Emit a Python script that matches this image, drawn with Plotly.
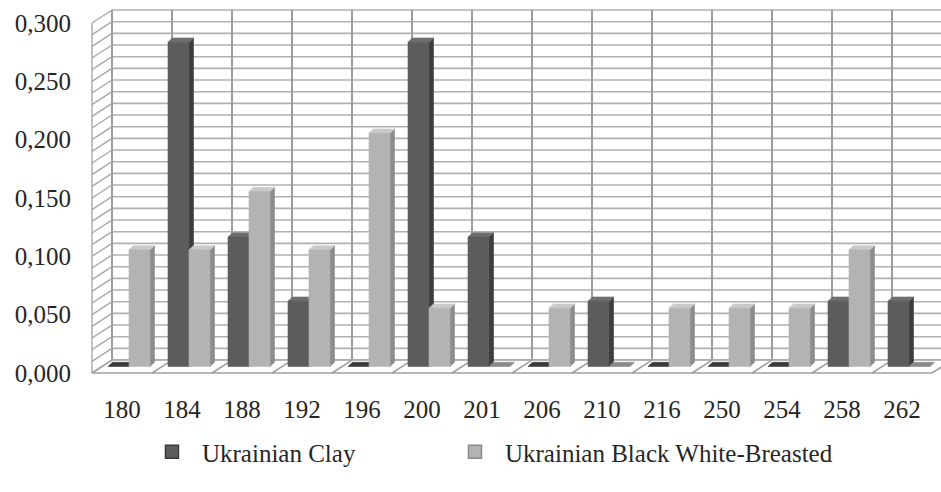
import plotly.graph_objects as go

# Allele sizes (bp) and their frequencies in the two breeds
alleles = ["180", "184", "188", "192", "196", "200", "201",
           "206", "210", "216", "250", "254", "258", "262"]
clay = [0.000, 0.278, 0.111, 0.056, 0.000, 0.278, 0.111,
        0.000, 0.056, 0.000, 0.000, 0.000, 0.056, 0.056]
black_white = [0.100, 0.100, 0.150, 0.100, 0.200, 0.050, 0.000,
               0.050, 0.000, 0.050, 0.050, 0.050, 0.100, 0.000]

y_ticks = [0.00, 0.05, 0.10, 0.15, 0.20, 0.25, 0.30]
y_tick_labels = ["0,000", "0,050", "0,100", "0,150", "0,200", "0,250", "0,300"]

# --- pseudo-3D geometry (x in category widths, y in value units) ---
N = len(alleles)
Y_MAX = y_ticks[-1]
GRID_STEP = 0.01
WALL_DX = 1 / 3          # depth shift of the back wall
WALL_DY = 0.0111
BAR_W = 0.35             # front-face width of one column
BAR_DX = 0.075           # column depth
BAR_DY = 0.0036
BAR_X0 = WALL_DX / 2 + 0.10   # left edge of the first column in a category
BAR_BASE = WALL_DY / 2        # columns stand in the middle of the floor

X_RANGE = [-1 / 3, 14.15]
Y_RANGE = [-0.0060, 0.3154]

FONT = "Liberation Serif"
TEXT = "#262626"

fig = go.Figure()


def add_lines(xs, ys, color, width):
    fig.add_trace(go.Scatter(x=xs, y=ys, mode="lines", hoverinfo="skip",
                             showlegend=False,
                             line=dict(color=color, width=width)))


def add_poly(xs, ys, color):
    fig.add_trace(go.Scatter(x=xs, y=ys, mode="lines", fill="toself",
                             fillcolor=color, hoverinfo="skip",
                             showlegend=False,
                             line=dict(color=color, width=0.6)))


n_grid = int(round(Y_MAX / GRID_STEP))
levels = [k * GRID_STEP for k in range(n_grid + 1)]
x_end = N + WALL_DX

# back wall: horizontal grid every 0.01 and one vertical line per category
gx, gy = [], []
for v in levels:
    gx += [WALL_DX, x_end, None]
    gy += [v + WALL_DY, v + WALL_DY, None]
add_lines(gx, gy, "#b0b0b0", 1.6)
vx, vy = [], []
for k in range(N + 1):
    vx += [k + WALL_DX, k + WALL_DX, None]
    vy += [WALL_DY, Y_MAX + WALL_DY, None]
add_lines(vx, vy, "#9c9c9c", 2)

# side wall with its slanted grid
sx, sy = [0, 0, None], [0, Y_MAX, None]
for v in levels:
    sx += [0, WALL_DX, None]
    sy += [v, v + WALL_DY, None]
add_lines(sx, sy, "#a8a8a8", 1.4)

# floor
add_poly([0, N, x_end, WALL_DX, 0], [0, 0, WALL_DY, WALL_DY, 0], "#ffffff")
fx = [0, N, None, WALL_DX, x_end, None, N, x_end, None]
fy = [0, 0, None, WALL_DY, WALL_DY, None, 0, WALL_DY, None]
for k in range(N):
    fx += [k, k + WALL_DX, None]
    fy += [0, WALL_DY, None]
add_lines(fx, fy, "#a0a0a0", 1.6)


def columns(values, shift, front, side, top, flat):
    """Front, side and top faces of one series of columns."""
    sxs, sys_, txs, tys, fxs, fys, zx, zy = [], [], [], [], [], [], [], []
    b = BAR_BASE
    for i, v in enumerate(values):
        x0 = i + BAR_X0 + shift
        x1 = x0 + BAR_W
        t = b + v
        if v == 0:
            zx += [x0, x1, x1 + BAR_DX, x0 + BAR_DX, x0, None]
            zy += [b, b, b + BAR_DY, b + BAR_DY, b, None]
            continue
        sxs += [x1, x1 + BAR_DX, x1 + BAR_DX, x1, x1, None]
        sys_ += [b, b + BAR_DY, t + BAR_DY, t, b, None]
        txs += [x0, x1, x1 + BAR_DX, x0 + BAR_DX, x0, None]
        tys += [t, t, t + BAR_DY, t + BAR_DY, t, None]
        fxs += [x0, x1, x1, x0, x0, None]
        fys += [b, b, t, t, b, None]
    add_poly(zx, zy, flat)
    add_poly(sxs, sys_, side)
    add_poly(txs, tys, top)
    add_poly(fxs, fys, front)


columns(clay, 0.0, "#5c5c5c", "#3d3d3d", "#6e6e6e", "#3a3a3a")
columns(black_white, BAR_W, "#b3b3b3", "#8c8c8c", "#c9c9c9", "#8a8a8a")

# legend entries, one legend box each
for name, color, edge, leg in [("Ukrainian Clay", "#5c5c5c", "#3a3a3a", "legend"),
                               ("Ukrainian Black White-Breasted", "#b3b3b3", "#8a8a8a", "legend2")]:
    fig.add_trace(go.Scatter(x=[None], y=[None], mode="markers", name=name,
                             legend=leg,
                             marker=dict(symbol="square", size=13, color=color,
                                         line=dict(color=edge, width=1.5))))

legend_style = dict(orientation="h", xanchor="left", y=-0.192, yanchor="middle",
                    itemwidth=50, bgcolor="rgba(0,0,0,0)",
                    font=dict(family=FONT, size=25, color=TEXT))

fig.update_layout(
    width=941, height=492,
    margin=dict(l=72, r=0, t=5, b=112),
    paper_bgcolor="white", plot_bgcolor="white",
    font=dict(family=FONT, size=25, color=TEXT),
    showlegend=True,
    legend=dict(x=0.0805, **legend_style),
    legend2=dict(x=0.4292, **legend_style),
    xaxis=dict(range=X_RANGE, showgrid=False, zeroline=False, showline=False,
               tickmode="array", tickvals=[i + 0.5 for i in range(N)],
               ticktext=alleles, ticks="", ticklabelstandoff=12,
               fixedrange=True),
    yaxis=dict(range=Y_RANGE, showgrid=False, zeroline=False, showline=False,
               tickmode="array", tickvals=y_ticks, ticktext=y_tick_labels,
               ticks="", fixedrange=True),
)

fig.write_html("out.html")
